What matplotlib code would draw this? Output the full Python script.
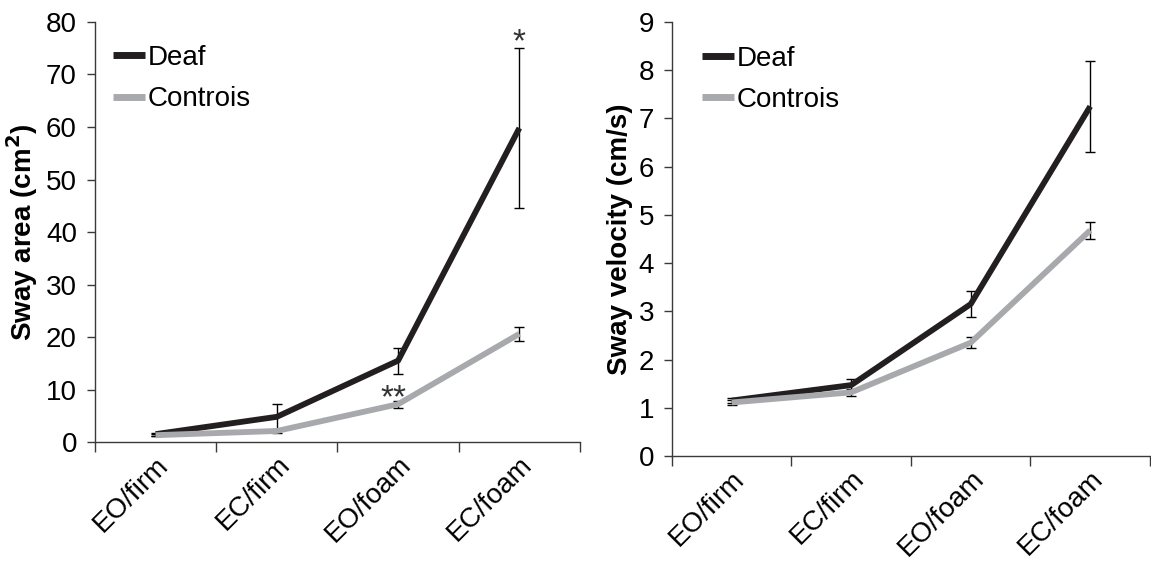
import numpy as np
import matplotlib.pyplot as plt

plt.rcParams["font.family"] = ["Liberation Sans", "DejaVu Sans"]

# ---- data ----
conditions = ["EO/firm", "EC/firm", "EO/foam", "EC/foam"]

area_deaf = [1.5, 4.8, 15.5, 59.8]
area_deaf_err = [0.3, 2.5, 2.5, 15.2]
area_ctrl = [1.3, 2.1, 7.2, 20.6]
area_ctrl_err = [0.2, 0.4, 0.7, 1.4]

vel_deaf = [1.15, 1.47, 3.15, 7.25]
vel_deaf_err = [0.05, 0.13, 0.27, 0.95]
vel_ctrl = [1.11, 1.32, 2.35, 4.68]
vel_ctrl_err = [0.05, 0.07, 0.12, 0.18]

DEAF_COLOR = "#231f20"
CTRL_COLOR = "#a7a9ac"
SPINE_COLOR = "#3a3a3a"
FS = 20

fig = plt.figure(figsize=(11.51, 5.64), dpi=100)
ax1 = fig.add_axes([0.0825, 0.2163, 0.4214, 0.7447])
ax2 = fig.add_axes([0.5838, 0.1915, 0.4153, 0.7695])


def draw_panel(ax, deaf, deaf_err, ctrl, ctrl_err, ymax, ystep, ylabel, leg_x):
    x = np.arange(len(conditions))
    ax.errorbar(x, ctrl, yerr=ctrl_err, fmt="none", ecolor="black",
                elinewidth=1, capsize=3.5, capthick=1, zorder=2)
    ax.errorbar(x, deaf, yerr=deaf_err, fmt="none", ecolor="black",
                elinewidth=1, capsize=3.5, capthick=1, zorder=2)
    ax.plot(x, deaf, color=DEAF_COLOR, lw=4.2, label="Deaf", zorder=3,
            solid_capstyle="butt")
    ax.plot(x, ctrl, color=CTRL_COLOR, lw=4.2, label="Controis", zorder=4,
            solid_capstyle="butt")

    ax.set_xlim(-0.5, 3.5)
    ax.set_ylim(0, ymax)
    ax.set_yticks(np.arange(0, ymax + ystep / 2, ystep))
    ax.set_xticks(np.arange(-0.5, 4.0, 1.0))
    ax.set_xticklabels([])
    ax.set_xticks(x, minor=True)
    ax.set_xticklabels(conditions, minor=True, rotation=45, ha="right",
                       va="top", rotation_mode="anchor", fontsize=FS)
    ax.tick_params(axis="x", which="minor", length=0, pad=7)
    ax.tick_params(axis="x", which="major", length=7, width=1,
                   color=SPINE_COLOR, direction="out")
    ax.tick_params(axis="y", length=6, width=1, color=SPINE_COLOR,
                   labelsize=FS, pad=7)
    for side in ["top", "right"]:
        ax.spines[side].set_visible(False)
    for side in ["left", "bottom"]:
        ax.spines[side].set_color(SPINE_COLOR)
        ax.spines[side].set_linewidth(1)
    ax.set_ylabel(ylabel, fontsize=FS, fontweight="bold", labelpad=4)

    leg = ax.legend(loc="upper left", bbox_to_anchor=(leg_x, 0.945),
                    frameon=False, fontsize=FS, handlelength=1.15,
                    handletextpad=0.1, labelspacing=0.55, borderpad=0,
                    borderaxespad=0)
    for line in leg.get_lines():
        line.set_linewidth(5)


draw_panel(ax1, area_deaf, area_deaf_err, area_ctrl, area_ctrl_err,
           80, 10, "Sway area (cm$^\\mathbf{2}$)", 0.037)
draw_panel(ax2, vel_deaf, vel_deaf_err, vel_ctrl, vel_ctrl_err,
           9, 1, "Sway velocity (cm/s)", 0.063)

# significance marks
ax1.text(3, area_deaf[3] + area_deaf_err[3] - 2.0, "*", ha="center",
         va="bottom", fontsize=FS + 4, color="#333333")
ax1.text(1.96, area_ctrl[2] - 2.0, "**", ha="center", va="bottom",
         fontsize=FS + 4, color="#333333")

fig.savefig("out.png", dpi=100)
